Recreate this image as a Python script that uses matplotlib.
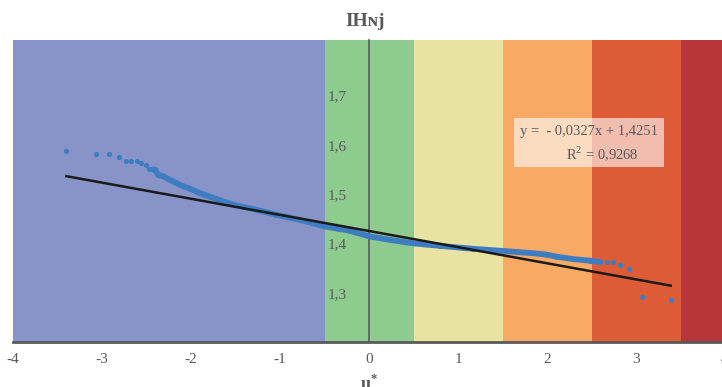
import numpy as np
import matplotlib
matplotlib.use("Agg")
import matplotlib.pyplot as plt
from matplotlib.patches import Rectangle

plt.rcParams['font.family'] = ['Liberation Serif', 'DejaVu Serif']
plt.rcParams['mathtext.fontset'] = 'custom'
plt.rcParams['mathtext.rm'] = 'Liberation Serif'
plt.rcParams['mathtext.bf'] = 'Liberation Serif:bold'

# standardised values u* and IHnj
u_vals = [-3.40, -3.07, -2.92, -2.81, -2.73, -2.67, -2.61, -2.56, -2.51, -2.47,
          -2.43, -2.40, -2.37, -2.31, -2.24, -2.16, -2.09, -2.01, -1.90, -1.79,
          -1.64, -1.49, -1.26, -1.04, -0.78, -0.51, -0.33, -0.25, 0.01, 0.24,
          0.50, 0.80, 1.17, 1.55, 1.70, 1.85, 2.00, 2.11, 2.30, 2.48, 2.60, 2.67,
          2.74, 2.82, 2.92, 3.07, 3.39]
ihnj_vals = [1.588, 1.581, 1.581, 1.576, 1.567, 1.567, 1.567, 1.563, 1.558, 1.551,
             1.550, 1.549, 1.539, 1.536, 1.529, 1.522, 1.516, 1.511, 1.502, 1.495,
             1.485, 1.477, 1.468, 1.458, 1.448, 1.435, 1.429, 1.427, 1.414, 1.407,
             1.400, 1.395, 1.389, 1.384, 1.382, 1.380, 1.377, 1.373, 1.368, 1.365, 1.362, 1.362,
             1.362, 1.357, 1.349, 1.292, 1.285]

# range where the points overlap into a solid band
dense_from, dense_to = -2.45, 2.62

slope, intercept, r2 = -0.0327, 1.4251, 0.9268

band_edges = [-4, -0.5, 0.5, 1.5, 2.5, 3.5, 4]
band_colors = ['#8894C8', '#8ECB8F', '#E8E3A0', '#F8A963', '#DD5B37', '#B8363A']

x_ticks = [-4, -3, -2, -1, 0, 1, 2, 3, 4]
y_ticks = [1.3, 1.4, 1.5, 1.6, 1.7]

u = np.array(u_vals)
v = np.array(ihnj_vals)

fig = plt.figure(figsize=(7.22, 3.87), dpi=100)
ax = fig.add_axes([13 / 722, 45 / 387, 712 / 722, 302 / 387])

for i, c in enumerate(band_colors):
    ax.axvspan(band_edges[i], band_edges[i + 1], color=c, lw=0, zorder=0)

blue = '#3F7DC3'
m = (u >= dense_from) & (u <= dense_to)
ax.plot(u[m], v[m], color=blue, lw=4.2, solid_capstyle='round', zorder=3)
ax.scatter(u, v, s=14, color=blue, lw=0, zorder=3)

xl = np.array([u.min(), u.max()])
ax.plot(xl, slope * xl + intercept, color='#1a1a1a', lw=1.8, zorder=4)

ax.add_patch(Rectangle((1.63, 1.554), 1.68, 0.101, facecolor='white',
                       alpha=0.6, lw=0, zorder=5))
ax.text(1.70, 1.627, 'y =  - 0,0327x + 1,4251', color='#595959', fontsize=10.5,
        va='center', ha='left', zorder=6)
ax.text(2.21, 1.582, 'R$^2$ = 0,9268', color='#595959', fontsize=10.5,
        va='center', ha='left', zorder=6)

ax.set_xlim(-4, 4)
ax.set_ylim(1.2, 1.8125)
ax.set_xticks(x_ticks)
ax.set_xticklabels([str(t) for t in x_ticks])
ax.set_yticks(y_ticks)
ax.set_yticklabels([f'{t:.1f}'.replace('.', ',') for t in y_ticks])
ax.tick_params(axis='x', length=0, pad=8, labelsize=11, labelcolor='#595959')
ax.tick_params(axis='y', length=0, pad=16, labelsize=11, labelcolor='#595959')

for s in ['top', 'right']:
    ax.spines[s].set_visible(False)
ax.spines['left'].set_position(('data', 0))
ax.spines['left'].set_color('#595959')
ax.spines['left'].set_linewidth(1.2)
ax.spines['bottom'].set_color('#595959')
ax.spines['bottom'].set_linewidth(2)

fig.text(365 / 722, 1 - 22 / 387, 'IHɴj', ha='center', va='center',
         fontsize=14, fontweight='bold', color='#595959')
fig.text(369 / 722, 3 / 387, r'$\mathbf{u}^{\mathbf{*}}$', ha='center', va='center',
         fontsize=13, color='#595959')

fig.savefig('out.png', dpi=100)
